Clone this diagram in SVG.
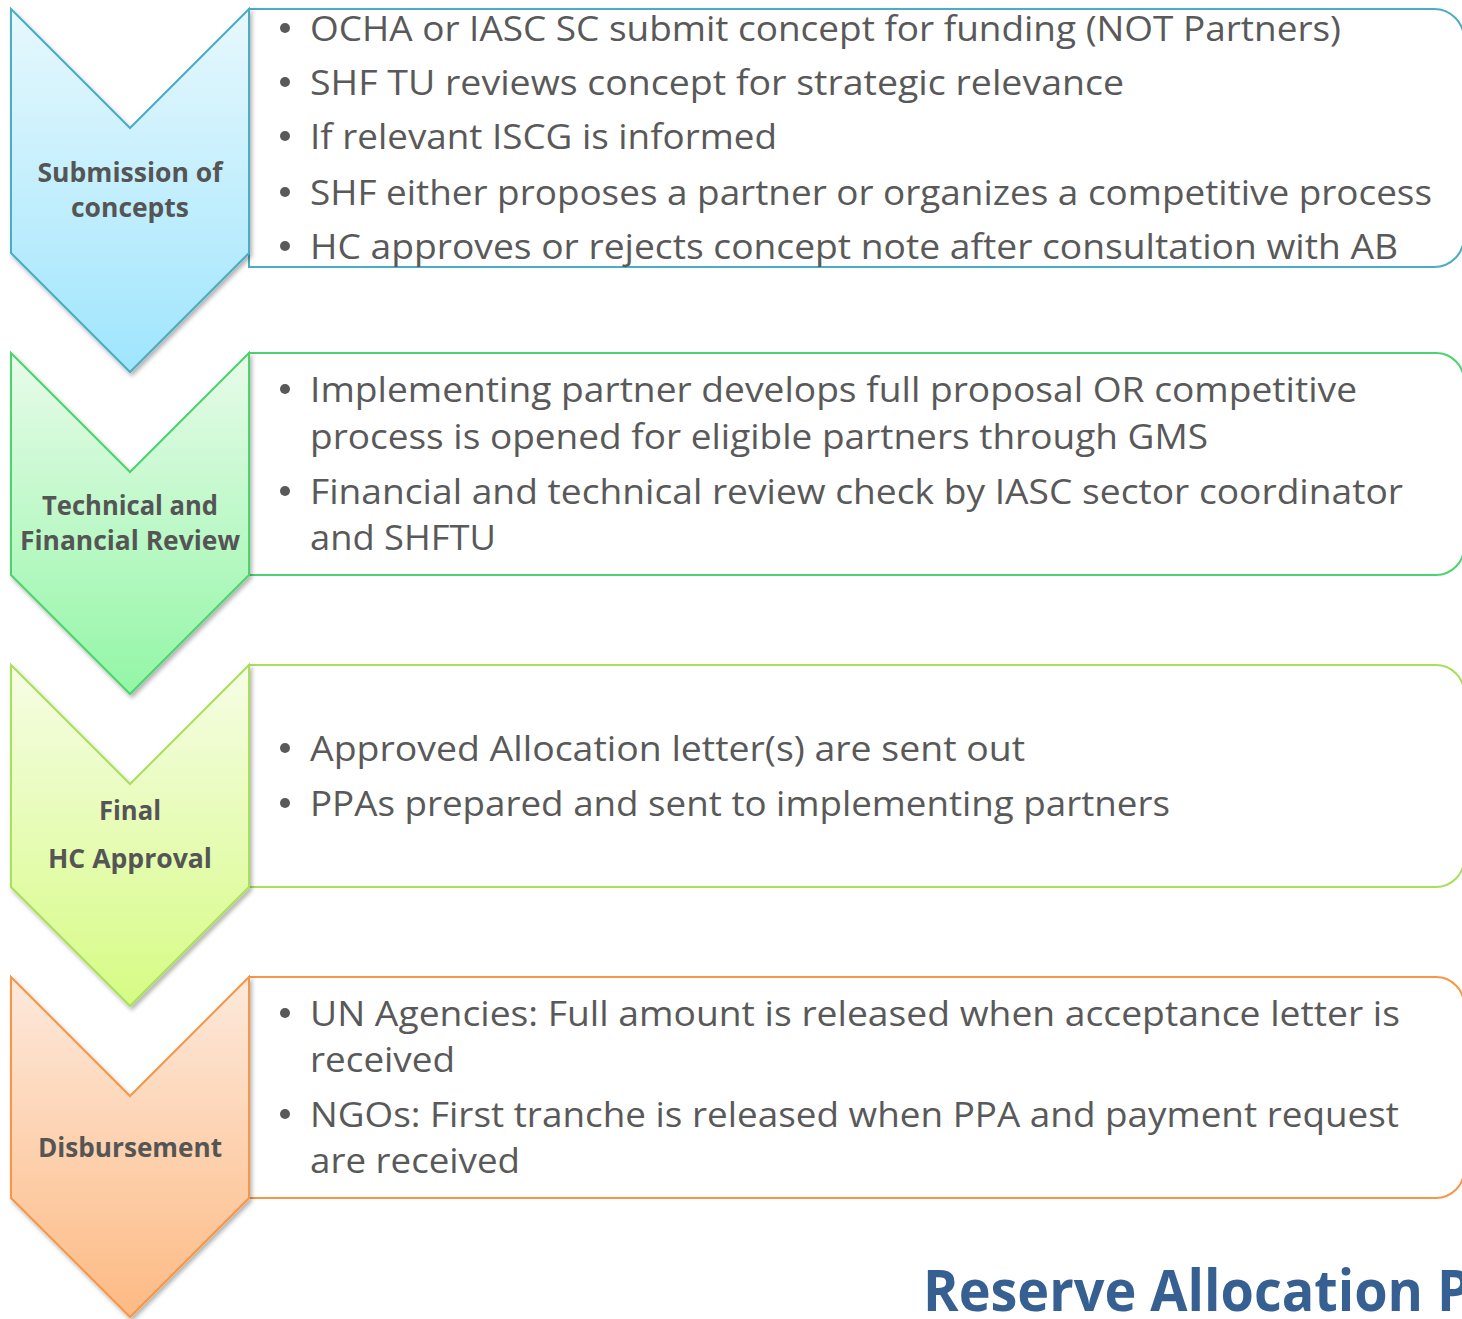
<svg xmlns="http://www.w3.org/2000/svg" width="1462" height="1319" viewBox="0 0 1462 1319">
<style>
.b{font-family:"Open Sans","Liberation Sans",sans-serif;font-size:35px;fill:#595959}
.l{font-family:"Open Sans","Liberation Sans",sans-serif;font-size:26px;font-weight:bold;fill:#555555;text-anchor:middle}
.t{font-family:"Open Sans","Liberation Sans",sans-serif;font-size:58px;font-weight:bold;fill:#376092}
.dot{fill:#595959}
.box{fill:#ffffff;stroke-width:2}
.chev{stroke-width:2;filter:url(#sh)}
</style>
<defs>
<filter id="sh" x="-10%" y="-10%" width="130%" height="130%">
<feDropShadow dx="2" dy="3" stdDeviation="2" flood-color="#000000" flood-opacity="0.3"/>
</filter>
<linearGradient id="g1" x1="0" y1="0" x2="0" y2="1"><stop offset="0" stop-color="#e7f8fd"/><stop offset="1" stop-color="#9fe5fd"/></linearGradient>
<linearGradient id="g2" x1="0" y1="0" x2="0" y2="1"><stop offset="0" stop-color="#e8fbea"/><stop offset="1" stop-color="#93f6a6"/></linearGradient>
<linearGradient id="g3" x1="0" y1="0" x2="0" y2="1"><stop offset="0" stop-color="#f6fde5"/><stop offset="1" stop-color="#d6fb84"/></linearGradient>
<linearGradient id="g4" x1="0" y1="0" x2="0" y2="1"><stop offset="0" stop-color="#fde9dc"/><stop offset="1" stop-color="#fdba83"/></linearGradient>
</defs>
<rect width="1462" height="1319" fill="#ffffff"/>

<g id="step1">
<path class="box" stroke="#4bacc6" d="M249,9 H1434 A30,30 0 0 1 1464,39 V237 A30,30 0 0 1 1434,267 H249 Z"/>
<path class="chev" fill="url(#g1)" stroke="#4bacc6" d="M11,9 L130,128 L249,9 V253 L130,372 L11,253 Z"/>
<text class="l" x="130" y="182" textLength="185" lengthAdjust="spacingAndGlyphs">Submission of</text>
<text class="l" x="130" y="217" textLength="118" lengthAdjust="spacingAndGlyphs">concepts</text>
<circle class="dot" cx="285" cy="28" r="5"/>
<text class="b" x="310" y="41" textLength="1031" lengthAdjust="spacingAndGlyphs">OCHA or IASC SC submit concept for funding (NOT Partners)</text>
<circle class="dot" cx="285" cy="82" r="5"/>
<text class="b" x="310" y="95" textLength="814" lengthAdjust="spacingAndGlyphs">SHF TU reviews concept  for strategic relevance</text>
<circle class="dot" cx="285" cy="136" r="5"/>
<text class="b" x="310" y="149" textLength="467" lengthAdjust="spacingAndGlyphs">If relevant ISCG is informed</text>
<circle class="dot" cx="285" cy="192" r="5"/>
<text class="b" x="310" y="205" textLength="1122" lengthAdjust="spacingAndGlyphs">SHF either proposes a partner or organizes a competitive process</text>
<circle class="dot" cx="285" cy="246" r="5"/>
<text class="b" x="310" y="259" textLength="1088" lengthAdjust="spacingAndGlyphs">HC approves or rejects concept note after consultation with AB</text>
</g>

<g id="step2">
<path class="box" stroke="#4cd46c" d="M249,353 H1436 A28,28 0 0 1 1464,381 V547 A28,28 0 0 1 1436,575 H249 Z"/>
<path class="chev" fill="url(#g2)" stroke="#4cd46c" d="M11,353 L130,472 L249,353 V575 L130,694 L11,575 Z"/>
<text class="l" x="130" y="515" textLength="176" lengthAdjust="spacingAndGlyphs">Technical and</text>
<text class="l" x="130" y="550" textLength="220" lengthAdjust="spacingAndGlyphs">Financial Review</text>
<circle class="dot" cx="285" cy="389" r="5"/>
<text class="b" x="310" y="402" textLength="1047" lengthAdjust="spacingAndGlyphs">Implementing partner develops full proposal OR competitive</text>
<text class="b" x="310" y="449" textLength="898" lengthAdjust="spacingAndGlyphs">process is opened for eligible partners through GMS</text>
<circle class="dot" cx="285" cy="491" r="5"/>
<text class="b" x="310" y="504" textLength="1093" lengthAdjust="spacingAndGlyphs">Financial and technical review check by IASC sector coordinator</text>
<text class="b" x="310" y="550" textLength="186" lengthAdjust="spacingAndGlyphs">and SHFTU</text>
</g>

<g id="step3">
<path class="box" stroke="#a8e05a" d="M249,665 H1436 A28,28 0 0 1 1464,693 V859 A28,28 0 0 1 1436,887 H249 Z"/>
<path class="chev" fill="url(#g3)" stroke="#a8e05a" d="M11,665 L130,784 L249,665 V887 L130,1006 L11,887 Z"/>
<text class="l" x="130" y="820" textLength="62" lengthAdjust="spacingAndGlyphs">Final</text>
<text class="l" x="130" y="868" textLength="164" lengthAdjust="spacingAndGlyphs">HC Approval</text>
<circle class="dot" cx="285" cy="748" r="5"/>
<text class="b" x="310" y="761" textLength="715" lengthAdjust="spacingAndGlyphs">Approved Allocation letter(s) are sent out</text>
<circle class="dot" cx="285" cy="803" r="5"/>
<text class="b" x="310" y="816" textLength="860" lengthAdjust="spacingAndGlyphs">PPAs prepared and sent to implementing partners</text>
</g>

<g id="step4">
<path class="box" stroke="#f79646" d="M249,977 H1436 A28,28 0 0 1 1464,1005 V1170 A28,28 0 0 1 1436,1198 H249 Z"/>
<path class="chev" fill="url(#g4)" stroke="#f79646" d="M11,977 L130,1096 L249,977 V1198 L130,1317 L11,1198 Z"/>
<text class="l" x="130" y="1157" textLength="184" lengthAdjust="spacingAndGlyphs">Disbursement</text>
<circle class="dot" cx="285" cy="1013" r="5"/>
<text class="b" x="310" y="1026" textLength="1090" lengthAdjust="spacingAndGlyphs">UN Agencies: Full amount is released when acceptance letter is</text>
<text class="b" x="310" y="1072" textLength="145" lengthAdjust="spacingAndGlyphs">received</text>
<circle class="dot" cx="285" cy="1114" r="5"/>
<text class="b" x="310" y="1127" textLength="1089" lengthAdjust="spacingAndGlyphs">NGOs: First tranche is released when PPA and payment request</text>
<text class="b" x="310" y="1173" textLength="210" lengthAdjust="spacingAndGlyphs">are received</text>
</g>

<g id="connectors"></g>

<text id="title" class="t" x="923" y="1311" textLength="548" lengthAdjust="spacingAndGlyphs">Reserve Allocation P</text>
</svg>
